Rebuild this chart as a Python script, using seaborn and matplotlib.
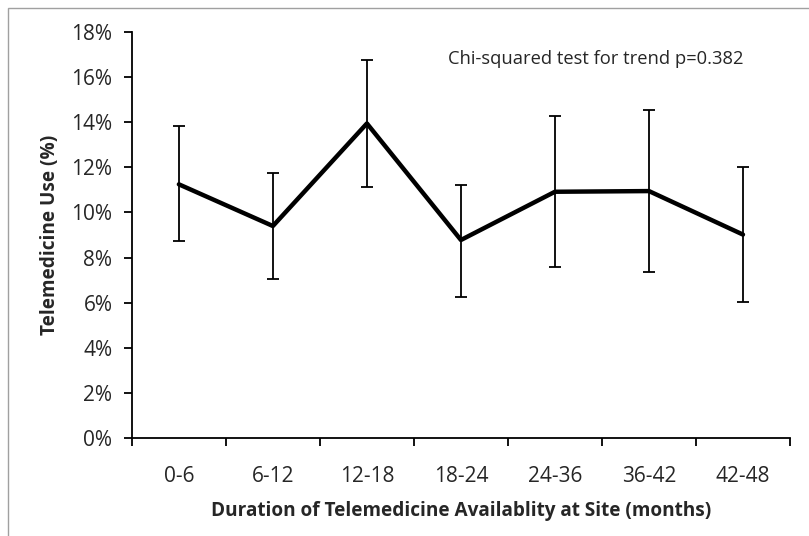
import numpy as np
import pandas as pd
import seaborn as sns
import matplotlib.pyplot as plt
from matplotlib.patches import Rectangle

# data (percent)
periods = ['0-6', '6-12', '12-18', '18-24', '24-36', '36-42', '42-48']
use_pct = [11.25, 9.40, 13.95, 8.78, 10.92, 10.95, 9.02]
upper_pct = [13.83, 11.76, 16.76, 11.21, 14.27, 14.54, 12.01]
lower_pct = [8.73, 7.06, 11.13, 6.26, 7.58, 7.37, 6.01]
yticks = [0, 2, 4, 6, 8, 10, 12, 14, 16, 18]

df = pd.DataFrame({'Period': periods, 'Use': use_pct,
                   'Upper': upper_pct, 'Lower': lower_pct})
df['pos'] = np.arange(len(df))

sns.set_style('ticks')
plt.rcParams['font.family'] = ['Open Sans', 'DejaVu Sans']

fig = plt.figure(figsize=(8.09, 5.36), dpi=100)
ax = fig.add_axes([0.163, 0.183, 0.8135, 0.757])

sns.lineplot(data=df, x='pos', y='Use', color='black', linewidth=3.2, ax=ax)
ax.errorbar(df['pos'], df['Use'],
            yerr=[df['Use'] - df['Lower'], df['Upper'] - df['Use']],
            fmt='none', ecolor='black', elinewidth=1.3, capsize=4, capthick=1.3)

ax.set_xlim(-0.5, len(df) - 0.5)
ax.set_ylim(0, 18)
ax.set_yticks(yticks)
ax.set_yticklabels([f'{v}%' for v in yticks], fontsize=15)
ax.set_xticks(df['pos'])
ax.set_xticklabels(df['Period'], fontsize=15)
# excel style: x ticks sit between categories
ax.set_xticks(np.arange(-0.5, len(df), 1), minor=True)
ax.tick_params(axis='x', which='major', length=0, pad=20)
ax.tick_params(axis='x', which='minor', length=6, width=1.3, color='black')
ax.tick_params(axis='y', length=6, width=1.3, color='black', pad=8)

ax.set_xlabel('Duration of Telemedicine Availablity at Site (months)',
              fontsize=13.7, fontweight='bold', labelpad=10)
ax.set_ylabel('Telemedicine Use (%)', fontsize=13.7, fontweight='bold', labelpad=8)

for side in ['top', 'right']:
    ax.spines[side].set_visible(False)
for side in ['left', 'bottom']:
    ax.spines[side].set_color('black')
    ax.spines[side].set_linewidth(1.3)

ax.text(0.930, 0.933, 'Chi-squared test for trend p=0.382', transform=ax.transAxes,
        ha='right', va='center', fontsize=13.2)

# outer chart border (only left/top visible in the crop)
fig.patches.append(Rectangle((8 / 809, -0.05), 1.2, 1 - 8 / 536 + 0.05,
                             transform=fig.transFigure, fill=False,
                             edgecolor='#a0a0a0', linewidth=1.0))

fig.savefig('out.png', dpi=100)
